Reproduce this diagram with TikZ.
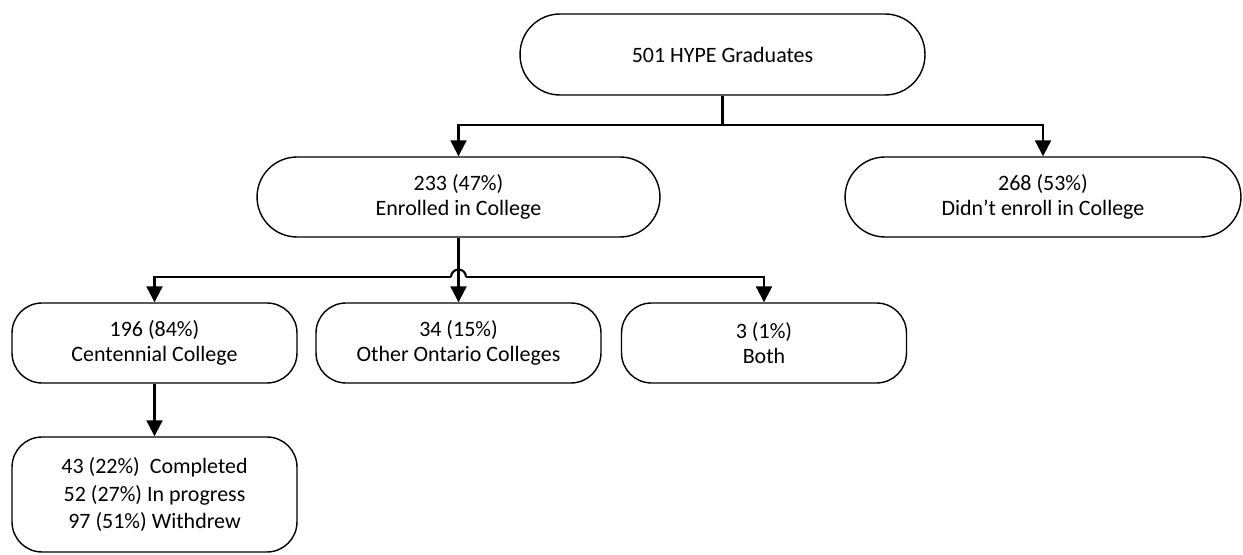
\documentclass[tikz,border=0pt]{standalone}
\usepackage{fontspec}
\setmainfont{Carlito}
\usepackage{tikz}
\usetikzlibrary{arrows.meta}

\tikzset{
  box/.style={draw=black, line width=0.8pt, rounded corners=0.8cm, align=center,
    font=\fontsize{12.5}{14}\selectfont, inner sep=0pt},
  smallbox/.style={box, rounded corners=0.6cm, minimum width=5.7cm, minimum height=1.6cm},
  link/.style={line width=1.2pt},
  arr/.style={link, -{Triangle[width=9pt,length=9pt]}}
}

\begin{document}
\begin{tikzpicture}[x=0.02cm, y=0.02cm]
			\useasboundingbox (0,0) rectangle (1243,554);
			\node[box, minimum width=8.1cm, minimum height=1.62cm] (grad) at (722.5,499.5) {501 HYPE Graduates};
			\node[box, minimum width=8.06cm, minimum height=1.6cm] (enr) at (458.5,357) {233 (47\%)\\Enrolled in College};
			\node[box, minimum width=7.92cm, minimum height=1.6cm] (noenr) at (1043,357) {268 (53\%)\\Didn’t enroll in College};
			\node[smallbox] (cent) at (154.5,211) {196 (84\%)\\Centennial College};
			\node[smallbox] (other) at (458.5,211) {34 (15\%)\\Other Ontario Colleges};
			\node[smallbox] (both) at (764,211) {3 (1\%)\\Both};
			\node[smallbox, minimum height=2.3cm, font=\fontsize{12.5}{15.5}\selectfont] (status) at (154.5,59.5) {43 (22\%)~~Completed\\52 (27\%) In progress\\97 (51\%) Withdrew};
			% first split
			\coordinate (j1) at (722.5,429);
			\draw[link] (grad.south) -- (j1);
			\draw[arr] (j1) -| (enr.north);
			\draw[arr] (j1) -| (noenr.north);
			% second split, line hops over the middle one
			\coordinate (hopL) at (451,277);
			\coordinate (hopR) at (466,277);
			\draw[arr] (enr.south) -- (other.north);
			\draw[arr] (hopL) -| (cent.north);
			\draw[arr] (hopR) -| (both.north);
			\draw[link] (hopL) arc[start angle=180, end angle=0, radius=7.5];
			\draw[arr] (cent.south) -- (status.north);
		\end{tikzpicture}
\end{document}
